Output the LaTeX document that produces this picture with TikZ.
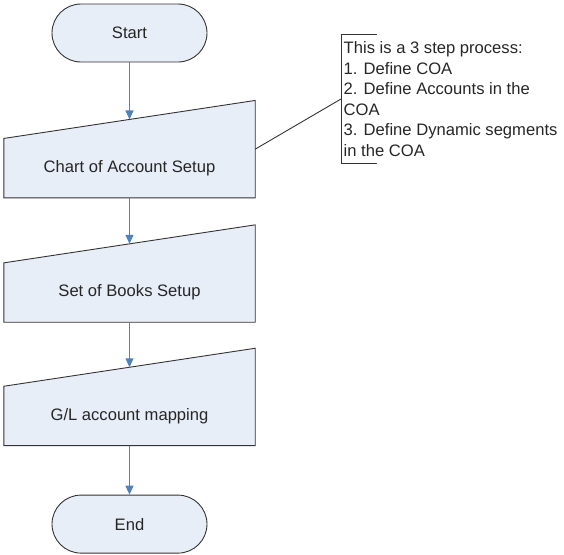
\documentclass[tikz,border=0pt]{standalone}
\usepackage{fontspec}
\setmainfont{Liberation Sans}
\usetikzlibrary{positioning, arrows.meta, calc, backgrounds}
\definecolor{boxfill}{HTML}{E8EEF8}
\definecolor{flowblue}{HTML}{4F81BD}

\begin{document}
\begin{tikzpicture}[x=1pt,y=1pt,font=\fontsize{16.6}{20.6}\selectfont,>={Triangle[length=9pt,width=8pt]},
  every node/.append style={text=black!85},
  t/.style={draw=black!80,fill=boxfill,rounded corners=29pt,minimum width=155pt,minimum height=58pt,line width=0.9pt},
  m/.style={minimum width=251pt,minimum height=59pt,inner sep=0pt},
  ol/.style={draw=black!80,line width=0.9pt},
  fl/.style={->,draw=flowblue,line width=1.1pt}]
  \useasboundingbox (0,0) rectangle (564,-554);
  \node[t](s) at (129.5,-33){Start};
  \node[m,below=76pt of s](coa){Chart of Account Setup};
  \node[m,below=65pt of coa](sob){Set of Books Setup};
  \node[m,below=64pt of sob](gl){G/L account mapping};
  \node[t,below=49pt of gl](e){End};
  \begin{scope}[on background layer]
  \foreach \n in {coa,sob,gl}{
    \draw[ol,fill=boxfill](\n.south west)--(\n.south east)--([yshift=38pt]\n.north east)--(\n.north west)--cycle;
    \coordinate(\n-t) at ([yshift=19pt]\n.north);
    \coordinate(\n-r) at ([yshift=19pt]\n.east);}
  \end{scope}
  \draw[fl](s)--(coa-t);\draw[fl](coa)--(sob-t);\draw[fl](sob)--(gl-t);\draw[fl](gl)--(e);
  % note on the COA step
  \node[align=left,anchor=west,minimum height=131pt,inner xsep=2.5pt](n) at (341,-99){This is a 3 step process:\\1. Define COA\\2. Define Accounts in the\\COA\\3. Define Dynamic segments\\in the COA};
  \draw[ol]([xshift=36pt,yshift=-1.5pt]n.north west)--([yshift=-1.5pt]n.north west)--([yshift=1.5pt]n.south west)--++(36,0);
  \draw[ol](coa-r)--(n.west);
\end{tikzpicture}
\end{document}
